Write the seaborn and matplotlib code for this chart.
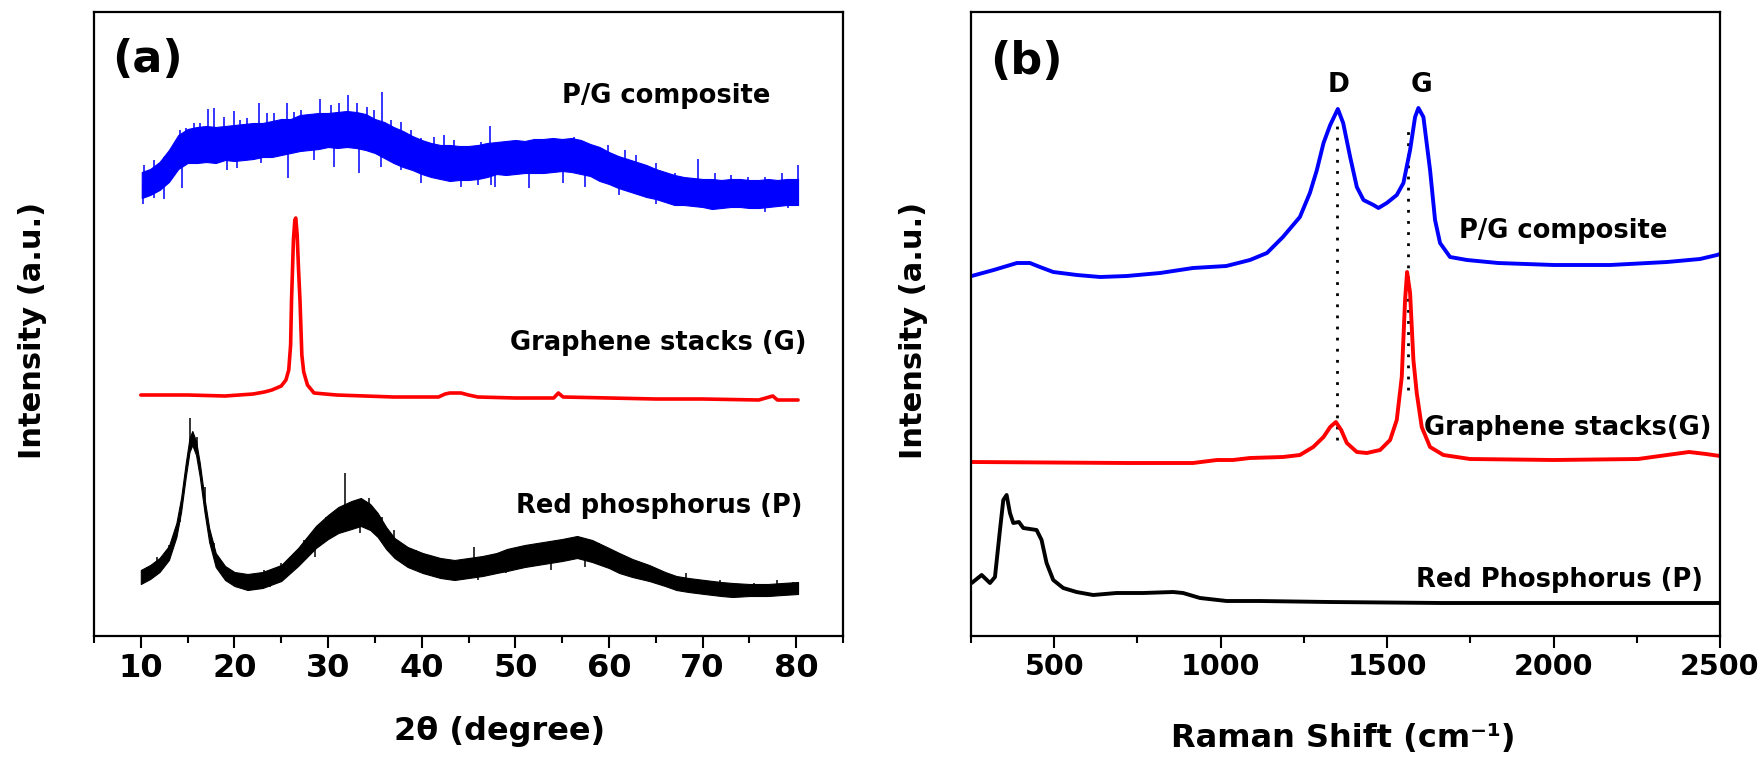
import matplotlib
matplotlib.use("Agg")
import matplotlib.pyplot as plt
from matplotlib.ticker import MultipleLocator, FixedLocator
import numpy as np
import seaborn as sns

# ---------------- data (intensity in arbitrary units) ----------------
# (a) XRD, 2theta in degree
xrd_pg_deg = [10.1, 11, 12, 13, 14, 15, 16, 17, 18, 19, 20, 21, 22, 23, 24, 25, 26, 27, 28, 29,
              30, 31, 32, 33, 34, 35, 36, 37, 38, 39, 40, 41, 42, 43, 44, 45, 46, 47, 48, 49,
              50, 51, 52, 53, 54, 55, 56, 57, 58, 59, 60, 61, 62, 63, 64, 65, 66, 67, 68, 69,
              70, 71, 72, 73, 74, 75, 76, 77, 78, 79, 80.2]
xrd_pg_mid = [451, 454, 460, 470, 484, 490, 491, 492, 491, 493, 493, 494, 495, 496, 497, 499, 500, 503, 504, 505,
              506, 506, 507, 506, 504, 500, 496, 491, 487, 483, 479, 476, 474, 473, 473, 473, 474, 476, 478, 478,
              479, 479, 480, 480, 481, 481, 481, 479, 476, 472, 468, 464, 461, 458, 455, 452, 449, 446, 445, 444,
              443, 442, 442, 443, 443, 442, 442, 443, 443, 444, 444]
xrd_pg_halfwidth = [13, 13, 14, 16, 17, 17, 18, 18, 18, 17, 18, 18, 18, 17, 18, 18, 17, 18, 18, 18,
                    17, 18, 18, 18, 18, 17, 18, 18, 18, 17, 17, 17, 17, 18, 17, 17, 17, 17, 16, 17,
                    17, 16, 17, 17, 17, 16, 17, 17, 16, 17, 16, 16, 16, 16, 16, 15, 15, 15, 14, 14,
                    14, 15, 14, 14, 14, 14, 14, 14, 13, 13, 13]
# noise spikes: position and tip
xrd_pg_spike_deg = [10.29, 11.36, 12.43, 13.32, 14.21, 14.86, 15.71, 16.36, 17.14, 17.86, 18.86, 20.0,
                    20.64, 21.36, 22.61, 23.5, 24.21, 25.57, 26.36, 27.07, 28.14, 29.14, 30.29, 31.18,
                    32.14, 33.14, 34.21, 34.93, 35.75, 36.71, 37.79, 38.86, 39.93, 41.36, 42.43, 43.5,
                    44.93, 46.36, 47.25, 48.32, 50.25, 52.65, 56.26, 58.06, 59.86, 61.67, 62.87, 64.98,
                    67.08, 69.48, 71.29, 73.09, 74.9, 76.7, 78.5, 80.19,
                    10.2, 11.36, 12.5, 14.39, 16.36, 19.21, 20.29, 22.79, 25.71, 28.5, 30.64, 33.32,
                    35.64, 37.79, 39.93, 41.36, 44.21, 46.0, 47.43, 47.84, 51.45, 55.06, 57.46, 61.07,
                    64.98, 67.08, 70.09, 73.09, 76.7, 79.1]
xrd_pg_spike_tip = [471, 476, 479, 488, 506, 508, 513, 513, 527, 528, 519, 525,
                    516, 518, 533, 523, 523, 533, 524, 526, 521, 537, 531, 533,
                    541, 533, 529, 526, 544, 516, 514, 506, 498, 499, 501, 496,
                    489, 494, 510, 493, 489, 493, 499, 489, 491, 486, 481, 473,
                    463, 477, 463, 461, 459, 459, 463, 471,
                    432, 438, 437, 448, 473, 466, 468, 473, 458, 476, 469, 463,
                    469, 466, 453, 459, 449, 451, 451, 449, 448, 453, 449, 441,
                    432, 436, 433, 431, 424, 428]

xrd_g_deg = [10, 12, 15, 19, 22, 23.2, 24, 25, 25.5, 25.8, 26.0, 26.1, 26.3, 26.45, 26.55, 26.7, 26.85,
             27.0, 27.2, 27.4, 27.8, 28.5, 30.9, 37, 41.8, 42.5, 43, 44.2, 45, 46, 50, 54.1, 54.6,
             55.1, 60, 65, 70, 76, 77.5, 78, 80.2]
xrd_g_int = [241, 241, 241, 240, 242, 244, 246, 250, 256, 266, 291, 336, 396, 416, 418, 401, 366,
             336, 281, 264, 251, 243, 241, 239, 239, 242, 243, 243, 241, 239, 238, 238, 243,
             239, 238, 237, 237, 236, 240, 236, 236]

xrd_p_deg = [10, 11, 12, 13, 13.8, 14.3, 14.8, 15.2, 15.5, 15.9, 16.3, 16.8, 17.3, 18, 19, 20, 21.4,
             23, 25, 26.8, 28.7, 30, 31.1, 32.5, 33.5, 34.5, 35.3, 36.2, 37.1, 38.5, 40.1, 42,
             43.5, 45, 46.5, 48, 49.1, 51, 53, 55, 56.6, 58.2, 60, 61.1, 62.5, 64.3, 66, 67.2,
             68.5, 70.2, 72, 73.2, 75, 77, 78.5, 80.2]
xrd_p_mid = [59, 64, 71, 83, 106, 131, 166, 191, 198, 188, 166, 131, 101, 76, 63, 57, 54,
             56, 63, 79, 99, 109, 116, 121, 124, 119, 111, 98, 88, 79, 73, 68,
             66, 68, 70, 73, 76, 80, 83, 86, 89, 85, 78, 73, 68, 63, 57, 53,
             51, 49, 47, 46, 46, 46, 47, 48]
xrd_p_halfwidth = [7, 7, 7, 7, 7, 7, 7, 7, 7, 7, 7, 7, 7, 7, 7, 7, 8,
                   8, 8, 9, 11, 12, 13, 14, 14, 13, 12, 11, 10, 10, 10, 10,
                   10, 10, 10, 10, 11, 11, 11, 11, 11, 11, 10, 10, 9, 8, 7, 7,
                   7, 7, 7, 7, 6, 6, 6, 6]
xrd_p_spike_deg = [10.68, 11.76, 12.97, 14.17, 15.25, 15.97, 16.87, 17.78, 20.18, 23.18, 24.99, 26.2,
                   27.4, 28.6, 29.8, 31.0, 31.85, 32.8, 34.32, 35.81, 37.02, 39.42, 42.43, 45.62,
                   47.84, 50.25, 52.65, 55.06, 56.56, 58.96, 61.07, 63.47, 64.68, 68.28, 71.89, 75.5,
                   77.9, 79.7,
                   10.26, 21.38, 23.79, 28.6, 33.4, 37.02, 40.63, 43.03, 46.04, 49.04, 53.86, 57.46,
                   61.07, 65.88, 70.09, 73.39, 76.1, 79.1]
xrd_p_spike_tip = [69, 79, 91, 114, 218, 199, 149, 93, 63, 66, 73, 81,
                   96, 106, 119, 123, 163, 129, 138, 119, 106, 86, 74, 89,
                   81, 86, 89, 93, 98, 93, 81, 73, 66, 63, 56, 53,
                   56, 54,
                   53, 46, 49, 79, 103, 79, 66, 58, 56, 63, 66, 69,
                   64, 51, 44, 41, 39, 43]

# (b) Raman, shift in cm-1
raman_pg_shift = [252, 318, 388, 427, 457, 497, 568, 638, 718, 818, 917, 1017, 1088, 1139, 1187, 1238,
                  1268, 1289, 1309, 1329, 1352, 1368, 1389, 1409, 1429, 1459, 1474, 1499, 1529, 1549,
                  1569, 1584, 1594, 1609, 1629, 1644, 1659, 1689, 1740, 1833, 2001, 2170, 2341, 2440,
                  2491, 2500]
raman_pg_int = [360, 366, 373, 373, 369, 364, 361, 359, 360, 363, 368, 370, 376, 383, 399, 419,
                443, 466, 493, 511, 527, 513, 479, 449, 436, 431, 428, 433, 441, 453,
                486, 519, 528, 519, 466, 416, 393, 379, 376, 373, 371, 371, 374, 377,
                381, 382]

raman_g_shift = [252, 718, 917, 989, 1037, 1088, 1187, 1238, 1278, 1309, 1329, 1346, 1362, 1379, 1409,
                 1439, 1479, 1509, 1529, 1544, 1554, 1560, 1569, 1579, 1589, 1604, 1629, 1669, 1749,
                 2001, 2254, 2341, 2407, 2458, 2500]
raman_g_int = [174, 173, 173, 176, 176, 178, 179, 181, 189, 199, 209, 214, 206, 193, 184,
               183, 186, 196, 216, 259, 336, 364, 343, 276, 243, 209, 189, 181, 177,
               176, 177, 181, 184, 182, 180]

raman_p_shift = [252, 282, 307, 322, 337, 347, 357, 367, 377, 394, 407, 447, 462, 477, 497, 527, 567,
                 617, 687, 767, 857, 887, 938, 1018, 1118, 1326, 1665, 2000, 2500]
raman_p_int = [53, 61, 53, 59, 106, 136, 141, 123, 113, 114, 108, 106, 96, 73, 56, 48, 44,
               41, 43, 43, 44, 43, 38, 35, 35, 34, 33, 33, 33]

# D and G band guide lines: position, lower end, upper end
band_names = ["D", "G"]
band_shift = [1350, 1562]
band_low = [196, 246]
band_high = [511, 509]

# ---------------- style ----------------
sns.set_style("ticks")
plt.rcParams["font.family"] = ["DejaVu Sans"]
plt.rcParams["font.weight"] = "bold"
plt.rcParams["axes.labelweight"] = "bold"
plt.rcParams["text.color"] = "black"
plt.rcParams["axes.labelcolor"] = "black"
plt.rcParams["xtick.color"] = "black"
plt.rcParams["ytick.color"] = "black"
plt.rcParams["axes.edgecolor"] = "black"

W, H = 1763, 759
fig = plt.figure(figsize=(W / 100, H / 100), dpi=100, facecolor="white")
ax_a = fig.add_axes([94 / W, 1 - 636 / H, 749 / W, 624 / H])
ax_b = fig.add_axes([971 / W, 1 - 636 / H, 749 / W, 624 / H])


def noisy_band(ax, x, mid, hw, spike_x, spike_tip, color):
    mid = np.array(mid)
    hw = np.array(hw)
    ax.fill_between(x, mid - hw, mid + hw, color=color, lw=0.8)
    base = np.interp(spike_x, x, mid)
    ax.vlines(spike_x, base, spike_tip, color=color, lw=1.1)


# ---------------- (a) XRD ----------------
noisy_band(ax_a, xrd_pg_deg, xrd_pg_mid, xrd_pg_halfwidth, xrd_pg_spike_deg, xrd_pg_spike_tip, "blue")
sns.lineplot(x=xrd_g_deg, y=xrd_g_int, ax=ax_a, color="red", lw=2.6, sort=False)
noisy_band(ax_a, xrd_p_deg, xrd_p_mid, xrd_p_halfwidth, xrd_p_spike_deg, xrd_p_spike_tip, "black")

ax_a.set_xlim(5, 85)
ax_a.set_ylim(0, 624)
ax_a.xaxis.set_major_locator(FixedLocator([10, 20, 30, 40, 50, 60, 70, 80]))
ax_a.xaxis.set_minor_locator(MultipleLocator(5))
ax_a.tick_params(axis="x", labelsize=23, pad=4)
ax_a.set_xlabel("2θ (degree)", fontsize=23, fontweight="bold")
ax_a.xaxis.set_label_coords(0.541, -0.128)

txt = dict(fontsize=18.5, fontweight="bold", ha="center", va="baseline")
ax_a.text(66.1, 533, "P/G composite", **txt)
ax_a.text(65.3, 286, "Graphene stacks (G)", **txt)
ax_a.text(65.4, 123, "Red phosphorus (P)", **txt)
ax_a.text(6.9, 577, "(a)", fontsize=32, fontweight="bold", ha="left", va="center")

# ---------------- (b) Raman ----------------
ax_b.vlines(band_shift, band_low, band_high, color="black", lw=2, linestyles=(0, (1, 3)))
sns.lineplot(x=raman_pg_shift, y=raman_pg_int, ax=ax_b, color="blue", lw=2.8, sort=False)
sns.lineplot(x=raman_g_shift, y=raman_g_int, ax=ax_b, color="red", lw=2.8, sort=False)
sns.lineplot(x=raman_p_shift, y=raman_p_int, ax=ax_b, color="black", lw=2.8, sort=False)

ax_b.set_xlim(250, 2500)
ax_b.set_ylim(0, 624)
ax_b.xaxis.set_major_locator(FixedLocator([500, 1000, 1500, 2000, 2500]))
ax_b.xaxis.set_minor_locator(MultipleLocator(250))
ax_b.tick_params(axis="x", labelsize=20.5, pad=4)
ax_b.set_xlabel("Raman Shift (cm⁻¹)", fontsize=23, fontweight="bold")
ax_b.xaxis.set_label_coords(0.497, -0.14)

ax_b.text(2028, 398, "P/G composite", **txt)
ax_b.text(2043, 201, "Graphene stacks(G)", **txt)
ax_b.text(2019, 49, "Red Phosphorus (P)", **txt)
for name, x in zip(band_names, [1355, 1602]):
    ax_b.text(x, 551, name, fontsize=19, fontweight="bold", ha="center", va="center")
ax_b.text(307, 574, "(b)", fontsize=32, fontweight="bold", ha="left", va="center")

# ---------------- common axis look ----------------
for ax in (ax_a, ax_b):
    ax.set_yticks([])
    ax.set_ylabel("")
    for s in ax.spines.values():
        s.set_visible(True)
        s.set_linewidth(1.6)
        s.set_color("black")
    ax.tick_params(axis="x", which="major", direction="out", length=8.5, width=1.5, color="black",
                   labelcolor="black")
    ax.tick_params(axis="x", which="minor", direction="out", length=5, width=1.5, color="black")
    for lab in ax.get_xticklabels():
        lab.set_fontweight("bold")

fig.text(33 / W, 1 - 330 / H, "Intensity (a.u.)", rotation=90, fontsize=22,
         fontweight="bold", ha="center", va="center")
fig.text(913 / W, 1 - 330 / H, "Intensity (a.u.)", rotation=90, fontsize=22,
         fontweight="bold", ha="center", va="center")

fig.savefig("out.png", dpi=100, facecolor="white")
